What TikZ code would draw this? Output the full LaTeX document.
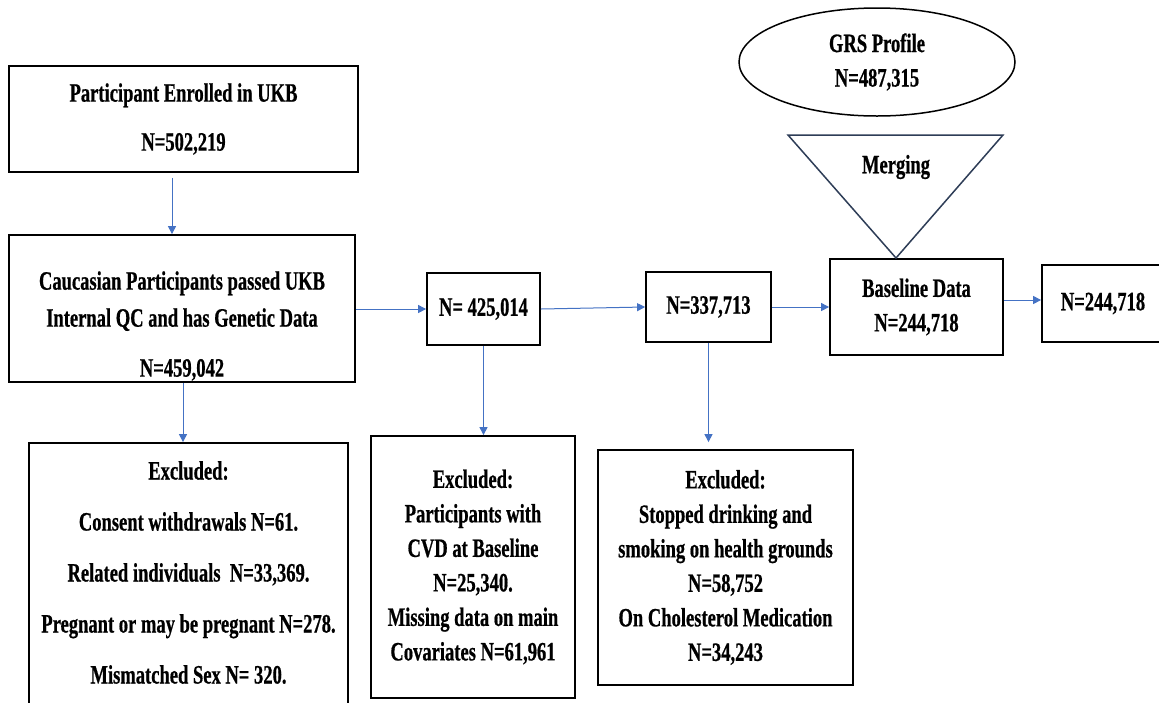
\documentclass[tikz,border=0pt]{standalone}
\usepackage{fontspec}
\setmainfont{Liberation Serif}[FakeStretch=0.70, BoldFeatures={FakeBold=0.6}]
\usetikzlibrary{arrows.meta,shapes.geometric}
\definecolor{arrblue}{HTML}{4472C4}
\definecolor{tricol}{HTML}{2E3D57}
\begin{document}
\begin{tikzpicture}[x=1pt,y=-1pt,
  every node/.style={font=\fontsize{26.5}{34.5}\selectfont\bfseries, align=center, text=black},
  box/.style={draw=black, line width=1.8pt, rectangle, inner sep=0pt},
  arr/.style={draw=arrblue, line width=1pt, -{Triangle[length=8pt,width=8pt]}},
]
\useasboundingbox (0,0) rectangle (1159,702);
\fill[white] (0,0) rectangle (1159,702);

% boxes
\node[box, minimum width=349pt, minimum height=106pt] (enrol) at (183.5,119) {Participant Enrolled in UKB\\[14.5pt]N=502,219};
\node[box, minimum width=346pt, minimum height=147pt] (cauc) at (182,308.5) {};
\node (cauctxt) at (182,326) {Caucasian Participants passed UKB\\[2.5pt]Internal QC and has Genetic Data\\[15.5pt]N=459,042};
\node[box, minimum width=113pt, minimum height=72pt] (nc) at (483.5,309) {N= 425,014};
\node[box, minimum width=125pt, minimum height=70pt] (nd) at (708.5,307) {N=337,713};
\node[box, minimum width=173pt, minimum height=96pt] (base) at (916.5,307) {Baseline Data\\N=244,718};
\node[box, minimum width=122pt, minimum height=77pt] (final) at (1103,303.5) {N=244,718};
\node[box, minimum width=319pt, minimum height=297pt] (exa) at (188.5,591.5) {};
\node (exatxt) at (188.5,572.5) {Excluded:\\[16.5pt]Consent withdrawals N=61.\\[16.5pt]Related individuals\ \ N=33,369.\\[16.5pt]Pregnant or may be pregnant N=278.\\[16.5pt]Mismatched Sex N= 320.};
\node[box, minimum width=204pt, minimum height=262pt] (exb) at (473,567) {Excluded:\\Participants with\\CVD at Baseline\\N=25,340.\\Missing data on main\\Covariates N=61,961};
\node[box, minimum width=255pt, minimum height=235pt] (exc) at (725.5,567.5) {Excluded:\\Stopped drinking and\\smoking on health grounds\\N=58,752\\On Cholesterol Medication\\N=34,243};

% GRS ellipse and merging triangle
\node[draw=black, line width=1.5pt, ellipse, inner sep=0pt, minimum width=276pt, minimum height=108pt] (grs) at (877,62) {GRS Profile\\N=487,315};
\coordinate (tl) at (788,135);
\coordinate (tr) at (1003,135);
\coordinate (tp) at (896,258);
\draw[tricol, line width=1.5pt, line join=miter] (tl) -- (tr) -- (tp) -- cycle;
\node (merge) at (896,167) {Merging};

% connectors
\draw[arr] ([xshift=-11.5pt,yshift=-5pt]enrol.south) -- ([xshift=-11.5pt]enrol.south |- cauc.north);
\draw[arr] ([xshift=1pt]cauc.south) -- ([xshift=1pt]cauc.south |- exa.north);
\draw[arr] (cauc.east |- nc.west) -- (nc.west);
\draw[arr] (nc.east) -- (nd.west);
\draw[arr] (nd.east) -- (nd.east -| base.west);
\draw[arr] ([yshift=7pt]base.east) -- ([yshift=7pt]base.east -| final.west);
\draw[arr] (nc.south) -- (nc.south |- exb.north);
\draw[arr] (nd.south) -- ([yshift=7pt]nd.south |- exc.north);
\end{tikzpicture}
\end{document}
